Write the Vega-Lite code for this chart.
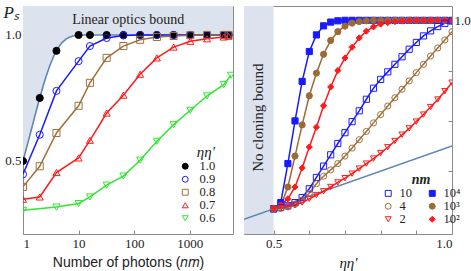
{
  "$schema": "https://vega.github.io/schema/vega-lite/v6.json",
  "padding": {"left": 2, "top": 2, "right": 0, "bottom": 0},
  "spacing": 9,
  "background": "white",
  "resolve": {
    "scale": {"x": "independent", "y": "independent", "color": "independent", "stroke": "independent", "fill": "independent", "shape": "independent"},
    "legend": {"color": "independent", "stroke": "independent", "fill": "independent", "shape": "independent"}
  },
  "config": {
    "view": {"stroke": "#8a8a8a", "strokeWidth": 1},
    "font": "Liberation Serif",
    "axis": {"domain": false, "grid": false, "tickColor": "#8a8a8a", "tickSize": -4, "labelFont": "Liberation Serif", "labelFontSize": 13, "labelColor": "#222222", "titleColor": "#222222", "titleFontWeight": "normal"},
    "legend": {"labelFont": "Liberation Serif", "labelFontSize": 12.5, "labelColor": "#222222", "titleColor": "#222222", "padding": 0, "symbolStrokeWidth": 1, "rowPadding": 0}
  },
  "datasets": {
    "bound": [
      {"nm": 1, "Ps": 0.5}, {"nm": 1.2, "Ps": 0.5647}, {"nm": 1.4, "Ps": 0.6211}, {"nm": 1.6, "Ps": 0.6701},
      {"nm": 1.8, "Ps": 0.7128}, {"nm": 2, "Ps": 0.75}, {"nm": 2.3, "Ps": 0.7969}, {"nm": 2.6, "Ps": 0.8351},
      {"nm": 3, "Ps": 0.875}, {"nm": 3.5, "Ps": 0.9116}, {"nm": 4, "Ps": 0.9375}, {"nm": 4.5, "Ps": 0.9558},
      {"nm": 5, "Ps": 0.9688}, {"nm": 6, "Ps": 0.9844}, {"nm": 7, "Ps": 0.9922}, {"nm": 8, "Ps": 0.9961},
      {"nm": 10, "Ps": 0.999}, {"nm": 14, "Ps": 0.9999}, {"nm": 20, "Ps": 1}, {"nm": 6000, "Ps": 1}
    ],
    "left": [
      {"nm": 1, "eta": "1.0", "Ps": 0.5}, {"nm": 2, "eta": "1.0", "Ps": 0.75}, {"nm": 4, "eta": "1.0", "Ps": 0.937},
      {"nm": 10, "eta": "1.0", "Ps": 1}, {"nm": 16, "eta": "1.0", "Ps": 1}, {"nm": 32, "eta": "1.0", "Ps": 1},
      {"nm": 64, "eta": "1.0", "Ps": 1}, {"nm": 128, "eta": "1.0", "Ps": 1}, {"nm": 256, "eta": "1.0", "Ps": 1},
      {"nm": 512, "eta": "1.0", "Ps": 1}, {"nm": 1024, "eta": "1.0", "Ps": 1}, {"nm": 2048, "eta": "1.0", "Ps": 1},
      {"nm": 4096, "eta": "1.0", "Ps": 1}, {"nm": 5000, "eta": "1.0", "Ps": 1},
      {"nm": 1, "eta": "0.9", "Ps": 0.447}, {"nm": 2, "eta": "0.9", "Ps": 0.604}, {"nm": 4, "eta": "0.9", "Ps": 0.778},
      {"nm": 10, "eta": "0.9", "Ps": 0.896}, {"nm": 16, "eta": "0.9", "Ps": 0.956}, {"nm": 32, "eta": "0.9", "Ps": 0.988},
      {"nm": 64, "eta": "0.9", "Ps": 0.998}, {"nm": 128, "eta": "0.9", "Ps": 1}, {"nm": 256, "eta": "0.9", "Ps": 1},
      {"nm": 512, "eta": "0.9", "Ps": 1}, {"nm": 1024, "eta": "0.9", "Ps": 1}, {"nm": 2048, "eta": "0.9", "Ps": 1},
      {"nm": 4096, "eta": "0.9", "Ps": 1}, {"nm": 5000, "eta": "0.9", "Ps": 1},
      {"nm": 1, "eta": "0.8", "Ps": 0.397}, {"nm": 2, "eta": "0.8", "Ps": 0.479}, {"nm": 4, "eta": "0.8", "Ps": 0.611},
      {"nm": 10, "eta": "0.8", "Ps": 0.719}, {"nm": 16, "eta": "0.8", "Ps": 0.81}, {"nm": 32, "eta": "0.8", "Ps": 0.909},
      {"nm": 64, "eta": "0.8", "Ps": 0.956}, {"nm": 128, "eta": "0.8", "Ps": 0.981}, {"nm": 256, "eta": "0.8", "Ps": 0.992},
      {"nm": 512, "eta": "0.8", "Ps": 0.996}, {"nm": 1024, "eta": "0.8", "Ps": 0.999}, {"nm": 2048, "eta": "0.8", "Ps": 1},
      {"nm": 4096, "eta": "0.8", "Ps": 1}, {"nm": 5000, "eta": "0.8", "Ps": 1},
      {"nm": 1, "eta": "0.7", "Ps": 0.348}, {"nm": 2, "eta": "0.7", "Ps": 0.357}, {"nm": 4, "eta": "0.7", "Ps": 0.454},
      {"nm": 10, "eta": "0.7", "Ps": 0.512}, {"nm": 16, "eta": "0.7", "Ps": 0.582}, {"nm": 32, "eta": "0.7", "Ps": 0.69},
      {"nm": 64, "eta": "0.7", "Ps": 0.761}, {"nm": 128, "eta": "0.7", "Ps": 0.844}, {"nm": 256, "eta": "0.7", "Ps": 0.909},
      {"nm": 512, "eta": "0.7", "Ps": 0.952}, {"nm": 1024, "eta": "0.7", "Ps": 0.975}, {"nm": 2048, "eta": "0.7", "Ps": 0.985},
      {"nm": 4096, "eta": "0.7", "Ps": 0.992}, {"nm": 5000, "eta": "0.7", "Ps": 0.995},
      {"nm": 1, "eta": "0.6", "Ps": 0.304}, {"nm": 4, "eta": "0.6", "Ps": 0.317}, {"nm": 10, "eta": "0.6", "Ps": 0.331},
      {"nm": 16, "eta": "0.6", "Ps": 0.357}, {"nm": 32, "eta": "0.6", "Ps": 0.404}, {"nm": 64, "eta": "0.6", "Ps": 0.44},
      {"nm": 128, "eta": "0.6", "Ps": 0.503}, {"nm": 256, "eta": "0.6", "Ps": 0.578}, {"nm": 512, "eta": "0.6", "Ps": 0.644},
      {"nm": 1024, "eta": "0.6", "Ps": 0.701}, {"nm": 2048, "eta": "0.6", "Ps": 0.758}, {"nm": 4096, "eta": "0.6", "Ps": 0.803},
      {"nm": 5500, "eta": "0.6", "Ps": 0.84}
    ],
    "nocloning": [{"eta": 0.417, "Ps": 0.2085}, {"eta": 1.0, "Ps": 0.5}],
    "right": [
      {"eta":0.50,"nm":"10⁴","Ps":0.25},{"eta":0.52,"nm":"10⁴","Ps":0.275},{"eta":0.54,"nm":"10⁴","Ps":0.43},{"eta":0.56,"nm":"10⁴","Ps":0.60},
      {"eta":0.58,"nm":"10⁴","Ps":0.757},{"eta":0.60,"nm":"10⁴","Ps":0.876},{"eta":0.62,"nm":"10⁴","Ps":0.942},{"eta":0.64,"nm":"10⁴","Ps":0.978},
      {"eta":0.66,"nm":"10⁴","Ps":0.993},{"eta":0.68,"nm":"10⁴","Ps":0.998},{"eta":0.70,"nm":"10⁴","Ps":1},{"eta":0.72,"nm":"10⁴","Ps":1},
      {"eta":0.74,"nm":"10⁴","Ps":1},{"eta":0.76,"nm":"10⁴","Ps":1},{"eta":0.78,"nm":"10⁴","Ps":1},{"eta":0.80,"nm":"10⁴","Ps":1},
      {"eta":0.82,"nm":"10⁴","Ps":1},{"eta":0.84,"nm":"10⁴","Ps":1},{"eta":0.86,"nm":"10⁴","Ps":1},{"eta":0.88,"nm":"10⁴","Ps":1},
      {"eta":0.90,"nm":"10⁴","Ps":1},{"eta":0.92,"nm":"10⁴","Ps":1},{"eta":0.94,"nm":"10⁴","Ps":1},{"eta":0.96,"nm":"10⁴","Ps":1},
      {"eta":0.98,"nm":"10⁴","Ps":1},{"eta":1.00,"nm":"10⁴","Ps":1},
      {"eta":0.50,"nm":"10³","Ps":0.25},{"eta":0.52,"nm":"10³","Ps":0.262},{"eta":0.54,"nm":"10³","Ps":0.337},{"eta":0.56,"nm":"10³","Ps":0.46},
      {"eta":0.58,"nm":"10³","Ps":0.584},{"eta":0.60,"nm":"10³","Ps":0.70},{"eta":0.62,"nm":"10³","Ps":0.79},{"eta":0.64,"nm":"10³","Ps":0.865},
      {"eta":0.66,"nm":"10³","Ps":0.92},{"eta":0.68,"nm":"10³","Ps":0.955},{"eta":0.70,"nm":"10³","Ps":0.977},{"eta":0.72,"nm":"10³","Ps":0.989},
      {"eta":0.74,"nm":"10³","Ps":0.995},{"eta":0.76,"nm":"10³","Ps":0.998},{"eta":0.78,"nm":"10³","Ps":1},{"eta":0.80,"nm":"10³","Ps":1},
      {"eta":0.82,"nm":"10³","Ps":1},{"eta":0.84,"nm":"10³","Ps":1},{"eta":0.86,"nm":"10³","Ps":1},{"eta":0.88,"nm":"10³","Ps":1},
      {"eta":0.90,"nm":"10³","Ps":1},{"eta":0.92,"nm":"10³","Ps":1},{"eta":0.94,"nm":"10³","Ps":1},{"eta":0.96,"nm":"10³","Ps":1},
      {"eta":0.98,"nm":"10³","Ps":1},{"eta":1.00,"nm":"10³","Ps":1},
      {"eta":0.50,"nm":"10²","Ps":0.25},{"eta":0.52,"nm":"10²","Ps":0.265},{"eta":0.54,"nm":"10²","Ps":0.29},{"eta":0.56,"nm":"10²","Ps":0.337},
      {"eta":0.58,"nm":"10²","Ps":0.413},{"eta":0.60,"nm":"10²","Ps":0.496},{"eta":0.62,"nm":"10²","Ps":0.575},{"eta":0.64,"nm":"10²","Ps":0.66},
      {"eta":0.66,"nm":"10²","Ps":0.735},{"eta":0.68,"nm":"10²","Ps":0.80},{"eta":0.70,"nm":"10²","Ps":0.85},{"eta":0.72,"nm":"10²","Ps":0.893},
      {"eta":0.74,"nm":"10²","Ps":0.93},{"eta":0.76,"nm":"10²","Ps":0.957},{"eta":0.78,"nm":"10²","Ps":0.974},{"eta":0.80,"nm":"10²","Ps":0.985},
      {"eta":0.82,"nm":"10²","Ps":0.991},{"eta":0.84,"nm":"10²","Ps":0.995},{"eta":0.86,"nm":"10²","Ps":0.997},{"eta":0.88,"nm":"10²","Ps":0.999},
      {"eta":0.90,"nm":"10²","Ps":1},{"eta":0.92,"nm":"10²","Ps":1},{"eta":0.94,"nm":"10²","Ps":1},{"eta":0.96,"nm":"10²","Ps":1},
      {"eta":0.98,"nm":"10²","Ps":1},{"eta":1.00,"nm":"10²","Ps":1},
      {"eta":0.50,"nm":"10","Ps":0.25},{"eta":0.52,"nm":"10","Ps":0.255},{"eta":0.54,"nm":"10","Ps":0.262},{"eta":0.56,"nm":"10","Ps":0.275},
      {"eta":0.58,"nm":"10","Ps":0.295},{"eta":0.60,"nm":"10","Ps":0.33},{"eta":0.62,"nm":"10","Ps":0.375},{"eta":0.64,"nm":"10","Ps":0.42},
      {"eta":0.66,"nm":"10","Ps":0.465},{"eta":0.68,"nm":"10","Ps":0.51},{"eta":0.70,"nm":"10","Ps":0.553},{"eta":0.72,"nm":"10","Ps":0.597},
      {"eta":0.74,"nm":"10","Ps":0.64},{"eta":0.76,"nm":"10","Ps":0.686},{"eta":0.78,"nm":"10","Ps":0.73},{"eta":0.80,"nm":"10","Ps":0.765},
      {"eta":0.82,"nm":"10","Ps":0.795},{"eta":0.84,"nm":"10","Ps":0.825},{"eta":0.86,"nm":"10","Ps":0.855},{"eta":0.88,"nm":"10","Ps":0.885},
      {"eta":0.90,"nm":"10","Ps":0.912},{"eta":0.92,"nm":"10","Ps":0.938},{"eta":0.94,"nm":"10","Ps":0.958},{"eta":0.96,"nm":"10","Ps":0.975},
      {"eta":0.98,"nm":"10","Ps":0.988},{"eta":1.00,"nm":"10","Ps":0.997},
      {"eta":0.50,"nm":"4","Ps":0.25},{"eta":0.52,"nm":"4","Ps":0.252},{"eta":0.54,"nm":"4","Ps":0.258},{"eta":0.56,"nm":"4","Ps":0.268},
      {"eta":0.58,"nm":"4","Ps":0.285},{"eta":0.60,"nm":"4","Ps":0.312},{"eta":0.62,"nm":"4","Ps":0.35},{"eta":0.64,"nm":"4","Ps":0.38},
      {"eta":0.66,"nm":"4","Ps":0.405},{"eta":0.68,"nm":"4","Ps":0.43},{"eta":0.70,"nm":"4","Ps":0.46},{"eta":0.72,"nm":"4","Ps":0.492},
      {"eta":0.74,"nm":"4","Ps":0.525},{"eta":0.76,"nm":"4","Ps":0.558},{"eta":0.78,"nm":"4","Ps":0.592},{"eta":0.80,"nm":"4","Ps":0.625},
      {"eta":0.82,"nm":"4","Ps":0.659},{"eta":0.84,"nm":"4","Ps":0.692},{"eta":0.86,"nm":"4","Ps":0.726},{"eta":0.88,"nm":"4","Ps":0.759},
      {"eta":0.90,"nm":"4","Ps":0.792},{"eta":0.92,"nm":"4","Ps":0.825},{"eta":0.94,"nm":"4","Ps":0.858},{"eta":0.96,"nm":"4","Ps":0.89},
      {"eta":0.98,"nm":"4","Ps":0.922},{"eta":1.00,"nm":"4","Ps":0.955},
      {"eta":0.50,"nm":"2","Ps":0.25},{"eta":0.52,"nm":"2","Ps":0.253},{"eta":0.54,"nm":"2","Ps":0.258},{"eta":0.56,"nm":"2","Ps":0.265},
      {"eta":0.58,"nm":"2","Ps":0.275},{"eta":0.60,"nm":"2","Ps":0.29},{"eta":0.62,"nm":"2","Ps":0.305},{"eta":0.64,"nm":"2","Ps":0.32},
      {"eta":0.66,"nm":"2","Ps":0.337},{"eta":0.68,"nm":"2","Ps":0.355},{"eta":0.70,"nm":"2","Ps":0.372},{"eta":0.72,"nm":"2","Ps":0.39},
      {"eta":0.74,"nm":"2","Ps":0.41},{"eta":0.76,"nm":"2","Ps":0.43},{"eta":0.78,"nm":"2","Ps":0.45},{"eta":0.80,"nm":"2","Ps":0.472},
      {"eta":0.82,"nm":"2","Ps":0.495},{"eta":0.84,"nm":"2","Ps":0.52},{"eta":0.86,"nm":"2","Ps":0.545},{"eta":0.88,"nm":"2","Ps":0.57},
      {"eta":0.90,"nm":"2","Ps":0.597},{"eta":0.92,"nm":"2","Ps":0.625},{"eta":0.94,"nm":"2","Ps":0.655},{"eta":0.96,"nm":"2","Ps":0.685},
      {"eta":0.98,"nm":"2","Ps":0.718},{"eta":1.00,"nm":"2","Ps":0.752}
    ]
  },
  "hconcat": [
    {
      "width": 210,
      "height": 228,
      "layer": [
        {
          "data": {"name": "bound"},
          "mark": {"type": "area", "color": "#dde3ee", "clip": true},
          "encoding": {
            "x": {"field": "nm", "type": "quantitative", "scale": {"type": "log", "domain": [1, 6000], "nice": false},
                  "axis": {"values": [1, 10, 100, 1000], "format": "d", "labelPadding": 7, "title": "Number of photons (𝑛𝑚)", "titleFont": "Liberation Sans", "titleFontSize": 14, "titlePadding": 5}},
            "y": {"field": "Ps", "type": "quantitative", "scale": {"domain": [0.21, 1.115], "nice": false, "zero": false},
                  "axis": {"values": [0.5, 0.6, 0.7, 0.8, 0.9, 1.0], "labelExpr": "datum.value == 0.5 || datum.value == 1 ? format(datum.value, '.1f') : ''", "labelPadding": 6,
                           "title": "Pₛ", "titleAngle": 0, "titleAlign": "left", "titleBaseline": "top", "titleX": -20, "titleY": -2, "titleFont": "Liberation Serif", "titleFontStyle": "italic", "titleFontSize": 17}},
            "y2": {"datum": 1.115}
          }
        },
        {
          "data": {"name": "bound"},
          "mark": {"type": "line", "color": "#5f86b3", "strokeWidth": 1.6, "clip": true},
          "encoding": {
            "x": {"field": "nm", "type": "quantitative"},
            "y": {"field": "Ps", "type": "quantitative"}
          }
        },
        {
          "data": {"name": "left"},
          "transform": [{"filter": "datum.eta != '1.0'"}],
          "mark": {"type": "line", "strokeWidth": 1.5, "clip": true},
          "encoding": {
            "x": {"field": "nm", "type": "quantitative"},
            "y": {"field": "Ps", "type": "quantitative"},
            "stroke": {"field": "eta", "type": "nominal", "scale": {"domain": ["1.0", "0.9", "0.8", "0.7", "0.6"], "range": ["#000000", "#1a1aff", "#a0703c", "#ff1a1a", "#33e633"]}}
          }
        },
        {
          "data": {"name": "left"},
          "mark": {"type": "point", "size": 50, "strokeWidth": 1, "opacity": 1, "clip": true},
          "encoding": {
            "x": {"field": "nm", "type": "quantitative"},
            "y": {"field": "Ps", "type": "quantitative"},
            "shape": {"field": "eta", "type": "nominal", "scale": {"domain": ["1.0", "0.9", "0.8", "0.7", "0.6"], "range": ["circle", "circle", "square", "triangle-up", "triangle-down"]},
                      "legend": {"title": "ηη′", "orient": "none", "legendX": 156, "legendY": 139, "titleFontStyle": "italic", "titleFontWeight": "normal", "titleFontSize": 15, "titleAnchor": "end", "symbolSize": 35, "labelOffset": 8, "titlePadding": 0}},
            "stroke": {"field": "eta", "type": "nominal"},
            "fill": {"field": "eta", "type": "nominal", "scale": {"domain": ["1.0", "0.9", "0.8", "0.7", "0.6"], "range": ["#000000", "transparent", "transparent", "transparent", "transparent"]}}
          }
        },
        {
          "data": {"values": [{"label": "Linear optics bound"}]},
          "mark": {"type": "text", "font": "Liberation Serif", "fontSize": 14, "color": "#222222", "align": "center", "baseline": "middle"},
          "encoding": {
            "x": {"datum": 78, "type": "quantitative"},
            "y": {"datum": 1.058, "type": "quantitative"},
            "text": {"field": "label"}
          }
        }
      ]
    },
    {
      "width": 208,
      "height": 228,
      "layer": [
        {
          "data": {"values": [{"label": "No cloning bound"}]},
          "mark": {"type": "rect", "color": "#dde3ee"},
          "encoding": {
            "x": {"datum": 0.417, "type": "quantitative", "scale": {"domain": [0.417, 1.0], "nice": false, "zero": false},
                  "axis": {"values": [0.5, 0.6, 0.7, 0.8, 0.9, 1.0], "labelExpr": "datum.value == 0.5 || datum.value == 1 ? format(datum.value, '.1f') : ''", "labelPadding": 7,
                           "title": "ηη′", "titleFont": "Liberation Serif", "titleFontStyle": "italic", "titleFontSize": 15, "titlePadding": 5}},
            "x2": {"datum": 0.5}
          }
        },
        {
          "data": {"name": "nocloning"},
          "mark": {"type": "line", "color": "#5f86b3", "strokeWidth": 1.6, "clip": true},
          "encoding": {
            "x": {"field": "eta", "type": "quantitative"},
            "y": {"field": "Ps", "type": "quantitative", "scale": {"domain": [0.15, 1.057], "nice": false, "zero": false},
                  "axis": {"orient": "right", "values": [0.2, 0.3, 0.4, 0.5, 0.6, 0.7, 0.8, 0.9, 1.0], "labelExpr": "datum.value == 0.5 || datum.value == 1 ? format(datum.value, '.1f') : ''", "labelPadding": 6, "title": null}}
          }
        },
        {
          "data": {"name": "right"},
          "mark": {"type": "line", "strokeWidth": 1.5, "clip": true},
          "encoding": {
            "x": {"field": "eta", "type": "quantitative"},
            "y": {"field": "Ps", "type": "quantitative"},
            "stroke": {"field": "nm", "type": "nominal", "scale": {"domain": ["10", "4", "2", "10⁴", "10³", "10²"], "range": ["#1a1aff", "#a0703c", "#ff1a1a", "#1a1aff", "#9c6a36", "#ff1a1a"]}}
          }
        },
        {
          "data": {"name": "right"},
          "mark": {"type": "point", "size": 38, "strokeWidth": 1, "opacity": 1, "clip": true},
          "encoding": {
            "x": {"field": "eta", "type": "quantitative"},
            "y": {"field": "Ps", "type": "quantitative"},
            "shape": {"field": "nm", "type": "nominal", "scale": {"domain": ["10", "4", "2", "10⁴", "10³", "10²"], "range": ["square", "circle", "triangle-down", "square", "circle", "diamond"]},
                      "legend": {"title": "nm", "orient": "none", "legendX": 138, "legendY": 167, "columns": 2, "columnPadding": 14, "titleFontStyle": "italic", "titleFontWeight": "bold", "titleFontSize": 14, "titleAnchor": "middle", "symbolSize": 35, "labelOffset": 5, "titlePadding": 0}},
            "stroke": {"field": "nm", "type": "nominal"},
            "fill": {"field": "nm", "type": "nominal", "scale": {"domain": ["10", "4", "2", "10⁴", "10³", "10²"], "range": ["transparent", "transparent", "transparent", "#1a1aff", "#9c6a36", "#ff1a1a"]}}
          }
        },
        {
          "data": {"values": [{"label": "No cloning bound"}]},
          "mark": {"type": "text", "font": "Liberation Serif", "fontSize": 15, "color": "#222222", "align": "center", "baseline": "middle", "angle": 270},
          "encoding": {
            "x": {"datum": 0.457, "type": "quantitative"},
            "y": {"datum": 0.613, "type": "quantitative"},
            "text": {"field": "label"}
          }
        }
      ]
    }
  ]
}
